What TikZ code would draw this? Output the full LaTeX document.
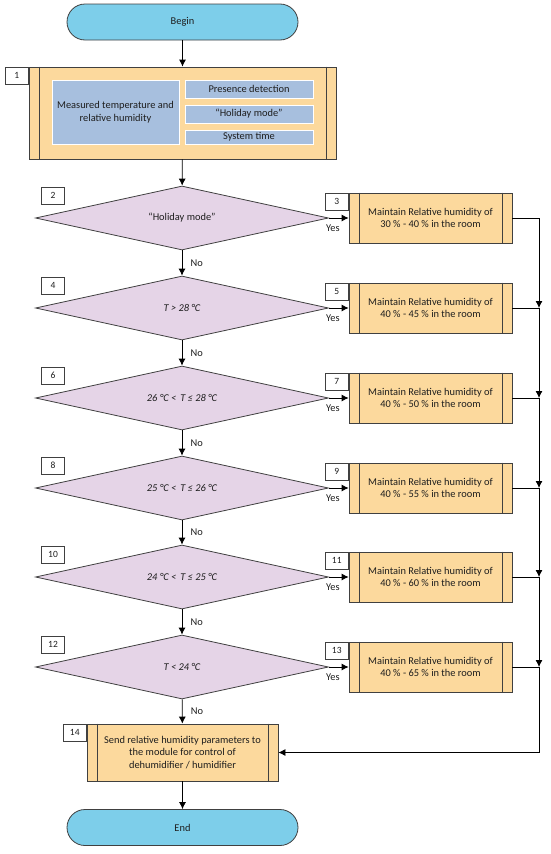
\documentclass[tikz,border=0pt]{standalone}
\usepackage{fontspec}
\setmainfont{Carlito}
\usepackage{tikz}
\usetikzlibrary{shapes,arrows,arrows.meta,calc,positioning}
\definecolor{termblue}{RGB}{125,206,234}
\definecolor{procorange}{RGB}{252,217,157}
\definecolor{declilac}{RGB}{229,212,231}
\definecolor{inblue}{RGB}{167,191,222}
\definecolor{edgegray}{RGB}{64,64,64}
\definecolor{txtgray}{RGB}{30,30,30}

\begin{document}
\begin{tikzpicture}[x=1pt, y=-1pt, every node/.style={font=\fontsize{10.4}{12.5}\selectfont, text=txtgray}]
\tikzstyle{terminal}=[draw=edgegray,line width=0.8pt,fill=termblue,rounded corners=18pt,minimum width=231pt,minimum height=36pt]
\tikzstyle{process}=[draw=edgegray,line width=0.8pt,fill=procorange,align=center,inner sep=0pt]
\tikzstyle{task}=[process,minimum width=163pt,minimum height=50pt]
\tikzstyle{decision}=[diamond,aspect=4.6,draw=edgegray,line width=0.8pt,fill=declilac,inner sep=0pt,minimum width=293pt,minimum height=64pt]
\tikzstyle{inputbox}=[draw=white,line width=0.8pt,fill=inblue,align=center,inner sep=0pt,minimum width=128pt]
\tikzstyle{numbox}=[draw=edgegray,line width=0.6pt,fill=white,minimum width=23pt,minimum height=17pt,inner sep=0pt,font=\fontsize{9.5}{10}\selectfont]
\tikzstyle{line}=[-{Latex[length=7pt,width=7pt]},line width=0.8pt]
\tikzstyle{no}=[anchor=west,xshift=5pt]
\tikzstyle{yes}=[anchor=north,yshift=-3pt,pos=0.2]

\useasboundingbox (0,0) rectangle (550,854);

\node (begin) [terminal] at (182.5,22) {Begin};

\node (p1) [process,minimum width=307pt,minimum height=92pt] at (182.5,113) {};
\node [numbox,anchor=north east] at (p1.north west) {1};
\node (meas) [inputbox,minimum width=127pt,minimum height=64pt] at (115.5,112) {Measured temperature and\\relative humidity};
\node (pres) [inputbox,minimum height=18pt] at (249,89) {Presence detection};
\node (hol) [inputbox,minimum height=18pt] at (249,114) {“Holiday mode”};
\node (time) [inputbox,minimum height=14pt] at (249,137) {System time};

% decisions
\node (d2) [decision] at (182,218) {“Holiday mode”};
\node (d4) [decision] at (182,308) {\itshape T > 28 °C};
\node (d6) [decision] at (182,398) {\itshape 26 °C <\, T ≤ 28 °C};
\node (d8) [decision] at (182,488) {\itshape 25 °C <\, T ≤ 26 °C};
\node (d10) [decision] at (182,577) {\itshape 24 °C <\, T ≤ 25 °C};
\node (d12) [decision] at (182,667) {\itshape T < 24 °C};
\node [numbox,xshift=-129pt,yshift=22.5pt] at (d2) {2};
\node [numbox,xshift=-129pt,yshift=22.5pt] at (d4) {4};
\node [numbox,xshift=-129pt,yshift=22.5pt] at (d6) {6};
\node [numbox,xshift=-129pt,yshift=22.5pt] at (d8) {8};
\node [numbox,xshift=-129pt,yshift=22.5pt] at (d10) {10};
\node [numbox,xshift=-129pt,yshift=22.5pt] at (d12) {12};

% humidity set points
\node (b3) [task] at (430.5,218) {Maintain Relative humidity of\\30 \% - 40 \% in the room};
\node (b5) [task] at (430.5,308) {Maintain Relative humidity of\\40 \% - 45 \% in the room};
\node (b7) [task] at (430.5,398) {Maintain Relative humidity of\\40 \% - 50 \% in the room};
\node (b9) [task] at (430.5,488) {Maintain Relative humidity of\\40 \% - 55 \% in the room};
\node (b11) [task] at (430.5,577) {Maintain Relative humidity of\\40 \% - 60 \% in the room};
\node (b13) [task] at (430.5,667) {Maintain Relative humidity of\\40 \% - 65 \% in the room};
\foreach \n/\t in {b3/3,b5/5,b7/7,b9/9,b11/11,b13/13}
  \node [numbox,anchor=north east] at (\n.north west) {\t};

\node (p14) [process,minimum width=191pt,minimum height=57pt] at (182.5,752.5) {Send relative humidity parameters to\\the module for control of\\dehumidifier / humidifier};
\node [numbox,anchor=north east] at (p14.north west) {14};

\node (end) [terminal] at (182.5,827.5) {End};

\foreach \n in {p1,b3,b5,b7,b9,b11,b13,p14}
{
  \draw [edgegray,line width=0.8pt] ([xshift=10.5pt]\n.north west) -- ([xshift=10.5pt]\n.south west);
  \draw [edgegray,line width=0.8pt] ([xshift=-10.5pt]\n.north east) -- ([xshift=-10.5pt]\n.south east);
}

\coordinate (j5) at (539,308);
\coordinate (j7) at (539,398);
\coordinate (j9) at (539,488);
\coordinate (j11) at (539,577);
\coordinate (j13) at (539,667);
\coordinate (j14) at (539,752.5);

\draw [line] (begin) -- (p1);
\draw [line] (p1) -- (d2);
\draw [line] (d2) -- node [no] {No} (d4);
\draw [line] (d4) -- node [no] {No} (d6);
\draw [line] (d6) -- node [no] {No} (d8);
\draw [line] (d8) -- node [no] {No} (d10);
\draw [line] (d10) -- node [no] {No} (d12);
\draw [line] (d12) -- node [no] {No} (p14);
\draw [line] (p14) -- (end);

\draw [line] (d2.east) -- node [yes] {Yes} (b3.west);
\draw [line] (d4.east) -- node [yes] {Yes} (b5.west);
\draw [line] (d6.east) -- node [yes] {Yes} (b7.west);
\draw [line] (d8.east) -- node [yes] {Yes} (b9.west);
\draw [line] (d10.east) -- node [yes] {Yes} (b11.west);
\draw [line] (d12.east) -- node [yes] {Yes} (b13.west);

\draw [line] (b3.east) -| (j5);
\draw [line] (b5.east) -| (j7);
\draw [line] (b7.east) -| (j9);
\draw [line] (b9.east) -| (j11);
\draw [line] (b11.east) -| (j13);
\draw [line] (b13.east) -| (j14) -- (p14.east);

\end{tikzpicture}
\end{document}
